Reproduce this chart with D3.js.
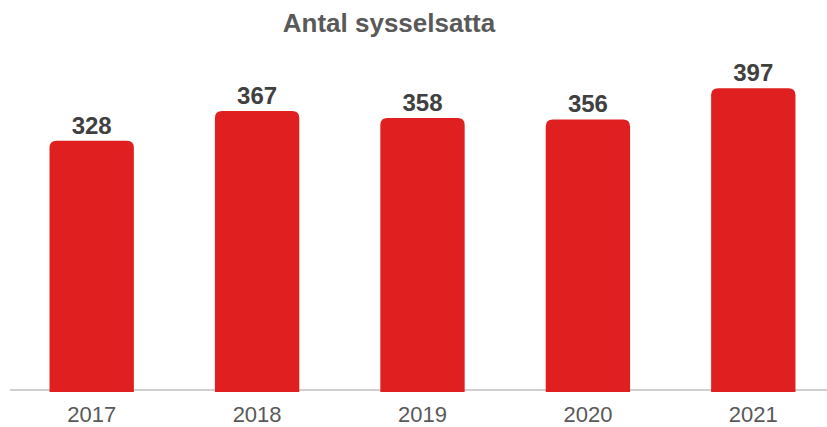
<!DOCTYPE html>
<html>
<head>
<meta charset="utf-8">
<script src="https://cdn.jsdelivr.net/npm/d3@7"></script>
<style>
  body { margin: 0; background: #fff; }
  text { font-family: "Liberation Sans", Arial, sans-serif; }
</style>
</head>
<body>
<div class="container"></div>
<script>
// data
var years = ["2017", "2018", "2019", "2020", "2021"];
var values = [328, 367, 358, 356, 397];
var title = "Antal sysselsatta";

var w = 827, h = 427;

var svg = d3.select(".container")
            .append("svg")
            .attr("width", w)
            .attr("height", h);

var x = d3.scaleBand()
          .domain(years)
          .range([9, 836])
          .paddingInner(0.49)
          .paddingOuter(0.245);

var y = d3.scaleLinear()
          .domain([0, 500])
          .range([390, 10]);

// title
svg.append("text")
   .attr("x", 389)
   .attr("y", 32)
   .attr("text-anchor", "middle")
   .style("font-size", "26px")
   .style("font-weight", "bold")
   .style("fill", "#595959")
   .text(title);

// baseline
svg.append("line")
   .attr("x1", 10)
   .attr("x2", 827)
   .attr("y1", y(0))
   .attr("y2", y(0))
   .style("stroke", "#bfbfbf")
   .style("stroke-width", 1.5);

// bar with rounded top corners
function barPath(x0, y0, bw, y1, r) {
  return "M" + x0 + "," + y1 +
         "V" + (y0 + r) +
         "Q" + x0 + "," + y0 + " " + (x0 + r) + "," + y0 +
         "H" + (x0 + bw - r) +
         "Q" + (x0 + bw) + "," + y0 + " " + (x0 + bw) + "," + (y0 + r) +
         "V" + y1 + "Z";
}

var data = years.map(function(d, i) { return {year: d, value: values[i]}; });

svg.selectAll(".bar")
   .data(data)
   .enter()
   .append("path")
   .attr("class", "bar")
   .attr("d", function(d) {
     return barPath(x(d.year), y(d.value), x.bandwidth(), y(0) + 2, 7);
   })
   .style("fill", "#e02020");

// value labels
svg.selectAll(".val")
   .data(data)
   .enter()
   .append("text")
   .attr("class", "val")
   .attr("x", function(d) { return x(d.year) + x.bandwidth() / 2; })
   .attr("y", function(d) { return y(d.value) - 7; })
   .attr("text-anchor", "middle")
   .style("font-size", "24px")
   .style("font-weight", "bold")
   .style("fill", "#404040")
   .text(function(d) { return d.value; });

// axis labels
var axis = d3.axisBottom(x).tickSize(0).tickPadding(0);
var ax = svg.append("g")
            .attr("transform", "translate(0," + y(0) + ")")
            .call(axis);
ax.select(".domain").remove();
ax.selectAll("text")
  .attr("y", 32)
  .attr("dy", 0)
  .style("font-size", "22px")
  .style("fill", "#595959");
</script>
</body>
</html>
